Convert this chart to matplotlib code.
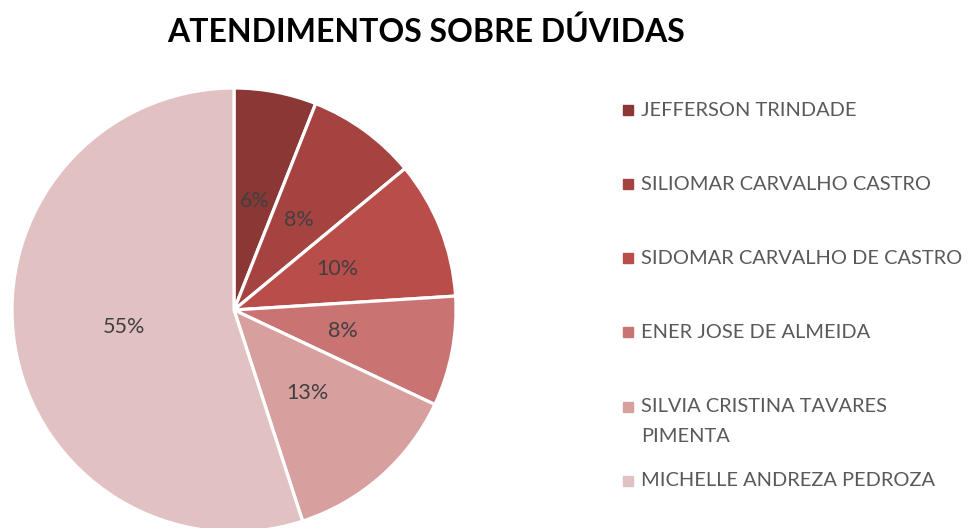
import matplotlib
matplotlib.use("Agg")
import matplotlib.pyplot as plt

# data (percent of atendimentos)
names = [
    "JEFFERSON TRINDADE",
    "SILIOMAR CARVALHO CASTRO",
    "SIDOMAR CARVALHO DE CASTRO",
    "ENER JOSE DE ALMEIDA",
    "SILVIA CRISTINA TAVARES\nPIMENTA",
    "MICHELLE ANDREZA PEDROZA",
]
shares = [6, 8, 10, 8, 13, 55]
colors = ["#8B3735", "#A54341", "#B84D4A", "#C97372", "#D7A09F", "#E2C1C2"]
title = "ATENDIMENTOS SOBRE DÚVIDAS"

W, H = 968, 528
plt.rcParams["font.family"] = ["Lato", "DejaVu Sans"]
TXT = "#595959"


def fx(x):
    return x / W


def fy(y):
    return 1 - y / H


fig = plt.figure(figsize=(W / 100, H / 100), dpi=100)

# pie: centre ~ (234, 310) px, radius ~ 222 px
cx, cy, r = 234, 310, 222
ax = fig.add_axes([fx(cx - r), fy(cy + r), 2 * r / W, 2 * r / H])
ax.pie(shares, colors=colors, startangle=90, counterclock=False,
       radius=1.0, autopct="%.0f%%", pctdistance=0.5,
       wedgeprops=dict(edgecolor="white", linewidth=2.3),
       textprops=dict(color="#404040", fontsize=15.5))
ax.set_xlim(-1, 1)
ax.set_ylim(-1, 1)
ax.set_aspect("auto")
ax.axis("off")

fig.text(fx(426), fy(32), title, ha="center", va="center",
         fontsize=23, fontweight="bold", color="black")

# legend drawn by hand so spacing matches
rows = [110, 184, 258, 332, 407, 481]
for name, col, y in zip(names, colors, rows):
    fig.patches.append(plt.Rectangle((fx(623), fy(y + 5)), 10 / W, 10 / H,
                                     transform=fig.transFigure, color=col))
    for k, line in enumerate(name.split("\n")):
        fig.text(fx(641), fy(y + 29 * k), line, ha="left", va="center",
                 fontsize=14.4, color=TXT)

fig.savefig("out.png", dpi=100)
